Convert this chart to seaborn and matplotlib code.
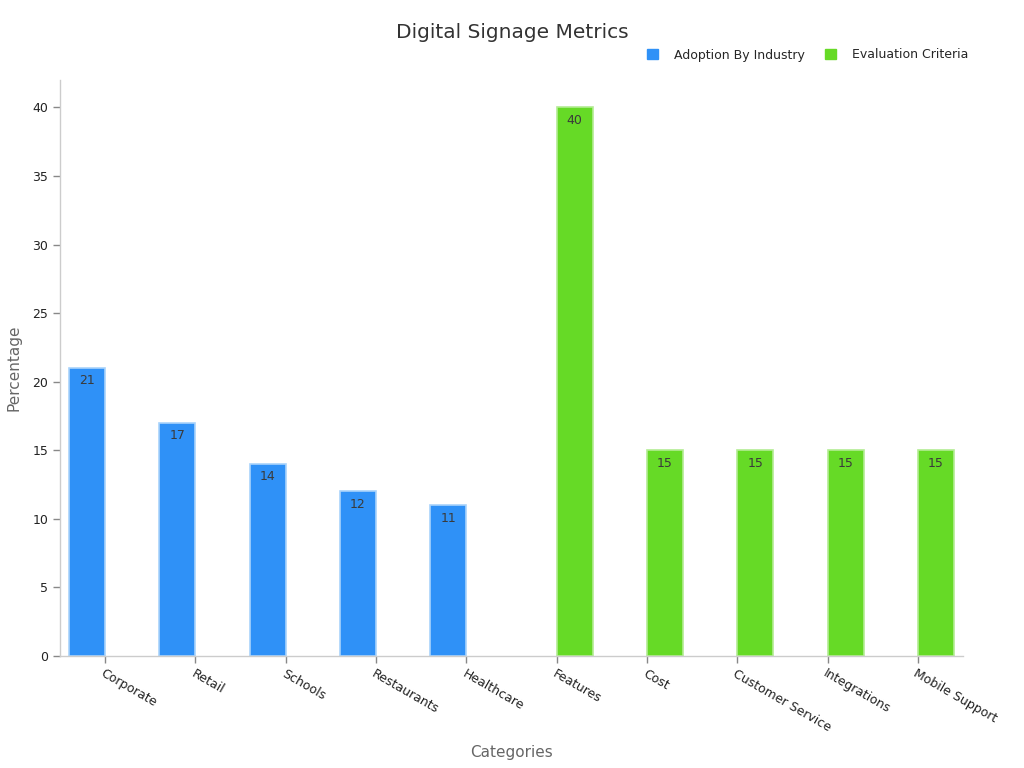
import matplotlib
matplotlib.use("Agg")
import matplotlib.pyplot as plt
import seaborn as sns
import pandas as pd
from matplotlib.patches import Patch

categories = ["Corporate", "Retail", "Schools", "Restaurants", "Healthcare",
              "Features", "Cost", "Customer Service", "Integrations", "Mobile Support"]
groups = ["Adoption By Industry"] * 5 + ["Evaluation Criteria"] * 5
values = [21, 17, 14, 12, 11, 40, 15, 15, 15, 15]
hue_order = ["Adoption By Industry", "Evaluation Criteria"]
colors = ["#2f91f7", "#66da26"]
edge_colors = ["#a9d3fb", "#b3ec93"]

df = pd.DataFrame({"Category": categories, "Group": groups, "Value": values})

sns.set_theme(style="white")
plt.rcParams['font.family'] = ['DejaVu Sans']

fig = plt.figure(figsize=(10.24, 7.68), dpi=100)
ax = fig.add_axes([60/1024, 1 - 656/768, (963-60)/1024, (656-80)/768])

sns.barplot(data=df, x="Category", y="Value", hue="Group", hue_order=hue_order,
            order=categories, palette=colors, width=0.8, dodge=True, saturation=1,
            ax=ax, legend=False, linewidth=1.2)

for cont, ec in zip(ax.containers, edge_colors):
    for bar in cont:
        bar.set_edgecolor(ec)
    labels = [f"{int(round(b.get_height()))}" if b.get_height() > 0 else "" for b in cont]
    ax.bar_label(cont, labels=labels, padding=-14, color="#3a3a3a", fontsize=9)

ax.set_ylim(0, 42)
ax.set_xlim(-0.5, 9.5)
ax.set_yticks([0, 5, 10, 15, 20, 25, 30, 35, 40])
for s in ["top", "right"]:
    ax.spines[s].set_visible(False)
for s in ["left", "bottom"]:
    ax.spines[s].set_color("#cccccc")
    ax.spines[s].set_linewidth(1)
ax.tick_params(axis="both", which="both", length=5, color="#888888", labelsize=9,
               labelcolor="#222222", bottom=True, left=True, width=1)
ax.tick_params(axis="x", pad=3)
plt.setp(ax.get_xticklabels(), rotation=-30, ha="left", rotation_mode="anchor")

ax.set_xlabel("Categories", fontsize=11, color="#666666", labelpad=8)
ax.set_ylabel("Percentage", fontsize=11, color="#666666", labelpad=8)

fig.text(0.5, 1 - 33/768, "Digital Signage Metrics", ha="center", va="center",
         fontsize=14.5, color="#333333")

handles = [Patch(facecolor=c, edgecolor=c) for c in colors]
fig.legend(handles, hue_order, loc="center right", bbox_to_anchor=(980/1024, 1 - 55/768),
           ncol=2, frameon=False, fontsize=9, handlelength=0.9, handleheight=0.9,
           columnspacing=1.6, handletextpad=1.3)

fig.savefig("out.png", dpi=100)
